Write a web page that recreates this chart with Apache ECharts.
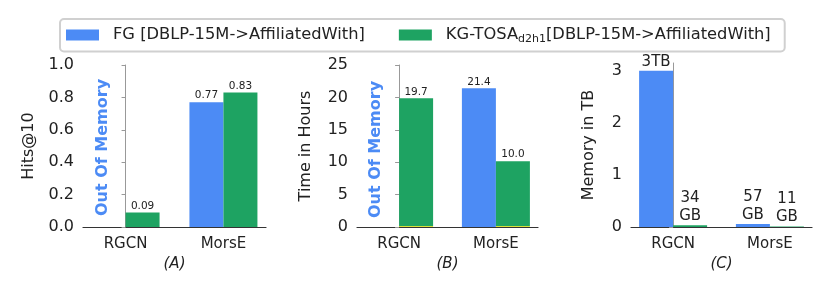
<!DOCTYPE html>
<html>
<head>
<meta charset="utf-8">
<script src="https://cdn.jsdelivr.net/npm/echarts@6/dist/echarts.min.js"></script>
<style>html,body{margin:0;padding:0;background:#fff;}#c{width:831px;height:289px;}</style>
</head>
<body>
<div id="c"></div>
<script>
const categories = ['RGCN', 'MorsE'];
const fgName = 'FG [DBLP-15M->AffiliatedWith]';
const kgName = 'KG-TOSA_d2h1[DBLP-15M->AffiliatedWith]';
const panelTitles = ['(A)', '(B)', '(C)'];
const yTitles = ['Hits@10', 'Time in Hours', 'Memory in TB'];

const hitsFG = [0, 0.77];
const hitsKG = [0.09, 0.83];
const timeFG = [0, 21.4];
const timeKGBase = [0.15, 0.15];
const timeKG = [19.7, 10.0];
const memFG = [3, 0.057];
const memKG = [0.034, 0.011];
const memLabelsFG = ['3TB', '57\nGB'];
const memLabelsKG = ['34\nGB', '11\nGB'];
const fgOutOfMemory = [true, false];
const oomText = 'Out Of Memory';

const hitsTicks = [0, 0.2, 0.4, 0.6, 0.8, 1.0];
const timeTicks = [0, 5, 10, 15, 20, 25];
const memTicks = [0, 1, 2, 3];

const BLUE = '#4c8bf5';
const GREEN = '#1ea362';
const YELLOW = '#d8e23a';
const FONT = 'DejaVu Sans';

const grids = [
  {left: 83, top: 65, width: 183, height: 162},
  {left: 357, top: 65, width: 181, height: 162},
  {left: 631, top: 63, width: 181, height: 164}
];
const yNameGaps = [46, 43, 34];
const oomShift = [[11, -6], [9, -6]];

const xAxes = grids.map((g, k) => ({
  type: 'value', gridIndex: k, min: -0.435, max: 1.435,
  axisLine: {show: true, lineStyle: {color: '#333', width: 1.2}},
  axisTick: {show: false},
  splitLine: {show: false},
  axisLabel: {customValues: [0, 1], formatter: v => categories[Math.round(v)],
    color: '#222', fontSize: 15, fontFamily: FONT, margin: 10},
  name: panelTitles[k], nameLocation: 'middle', nameGap: 29,
  nameTextStyle: {fontStyle: 'italic', fontSize: 15, color: '#222', fontFamily: FONT}
}));

const yTickSets = [hitsTicks, timeTicks, memTicks];
const yMax = [1, 25, 3.15];
const yAxes = grids.map((g, k) => ({
  type: 'value', gridIndex: k, min: 0, max: yMax[k],
  axisLine: {show: true, lineStyle: {color: '#999', width: 1}},
  axisTick: {show: true, length: 4, lineStyle: {color: '#999'}, customValues: yTickSets[k]},
  splitLine: {show: false},
  axisLabel: {customValues: yTickSets[k],
    formatter: v => k === 0 ? v.toFixed(1) : String(v),
    color: '#222', fontSize: 16, fontFamily: FONT, margin: 9},
  name: yTitles[k], nameLocation: 'middle', nameGap: yNameGaps[k], nameRotate: 90,
  nameTextStyle: {fontSize: 16, color: '#222', fontFamily: FONT}
}));

function pts(arr, extra) {
  return arr.map((v, i) => extra && extra(i) ? Object.assign({value: [v, i]}, extra(i)) : [v, i]);
}
const oomLabel = k => i => fgOutOfMemory[i] ? {label: {show: true, rotate: 90, position: 'top',
  align: 'left', verticalAlign: 'middle', distance: oomShift[k][0], offset: [0, oomShift[k][1]],
  formatter: oomText, fontSize: 16, fontWeight: 'bold', color: BLUE, fontFamily: FONT}} : null;

const smallLabel = digits => ({show: true, position: 'top', distance: 1, fontSize: 10.5,
  color: '#222', fontFamily: FONT, formatter: p => p.value[0].toFixed(digits)});

const base = {type: 'bar', barWidth: 34, barGap: '0%', encode: {x: 1, y: 0}};

const series = [
  Object.assign({}, base, {name: fgName, xAxisIndex: 0, yAxisIndex: 0, itemStyle: {color: BLUE},
    data: pts(hitsFG, oomLabel(0)), label: smallLabel(2)}),
  Object.assign({}, base, {name: kgName, xAxisIndex: 0, yAxisIndex: 0, itemStyle: {color: GREEN},
    data: pts(hitsKG), label: smallLabel(2)}),

  Object.assign({}, base, {name: fgName, xAxisIndex: 1, yAxisIndex: 1, itemStyle: {color: BLUE},
    data: pts(timeFG, oomLabel(1)), label: smallLabel(1)}),
  Object.assign({}, base, {name: 'base', stack: 'kg', xAxisIndex: 1, yAxisIndex: 1, itemStyle: {color: YELLOW},
    data: pts(timeKGBase)}),
  Object.assign({}, base, {name: kgName, stack: 'kg', xAxisIndex: 1, yAxisIndex: 1, itemStyle: {color: GREEN},
    data: pts(timeKG), label: smallLabel(1)}),

  Object.assign({}, base, {name: fgName, xAxisIndex: 2, yAxisIndex: 2, itemStyle: {color: BLUE},
    data: pts(memFG), label: {show: true, position: 'top', distance: 0, fontSize: 15, lineHeight: 18,
      color: '#222', fontFamily: FONT, formatter: p => memLabelsFG[p.dataIndex]}}),
  Object.assign({}, base, {name: kgName, xAxisIndex: 2, yAxisIndex: 2, itemStyle: {color: GREEN},
    data: pts(memKG), label: {show: true, position: 'top', distance: 0, fontSize: 15, lineHeight: 18,
      color: '#222', fontFamily: FONT, formatter: p => memLabelsKG[p.dataIndex]}})
];

const option = {
  animation: false,
  backgroundColor: '#fff',
  legend: {
    data: [fgName, kgName], left: 60, top: 19,
    backgroundColor: '#fff', borderColor: '#d0d0d0', borderWidth: 2, borderRadius: 4,
    padding: [8, 14, 7, 6], itemWidth: 33, itemHeight: 11, itemGap: 34, icon: 'rect',
    textStyle: {fontSize: 16.3, color: '#222', fontFamily: FONT, padding: [0, 0, 0, 9],
      rich: {sub: {fontSize: 11, color: '#222', fontFamily: FONT, verticalAlign: 'bottom', padding: [8, 0, 0, 0]}}},
    formatter: name => name === kgName ? 'KG-TOSA{sub|d2h1}[DBLP-15M->AffiliatedWith]' : name
  },
  grid: grids,
  xAxis: xAxes,
  yAxis: yAxes,
  series: series
};

const chart = echarts.init(document.getElementById('c'), null, {renderer: 'canvas'});
chart.setOption(option);
</script>
</body>
</html>
